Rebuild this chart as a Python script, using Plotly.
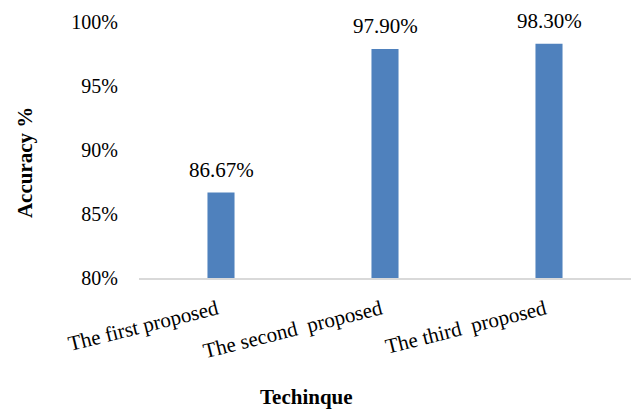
import plotly.graph_objects as go

# Accuracy of each proposed technique
techniques = ["The first proposed", "The second  proposed", "The third  proposed"]
accuracy = [86.67, 97.90, 98.30]
y_ticks = [80, 85, 90, 95, 100]

SERIF = "Liberation Serif"
BAR_BLUE = "#4f81bd"

fig = go.Figure(
    go.Bar(
        x=techniques,
        y=accuracy,
        width=0.165,
        marker=dict(color=BAR_BLUE, line=dict(width=0)),
        hoverinfo="skip",
    )
)

# Value labels above each bar
for name, val in zip(techniques, accuracy):
    fig.add_annotation(
        x=name, y=val, text=f"{val:.2f}%",
        showarrow=False, yanchor="bottom", yshift=9,
        font=dict(family=SERIF, size=21, color="#000000"),
    )

# Axis titles
fig.add_annotation(
    xref="paper", yref="paper", x=0.341, y=-0.465,
    text="<b>Techinque</b>", showarrow=False,
    xanchor="center", yanchor="middle",
    font=dict(family=SERIF, size=21, color="#000000"),
)
fig.add_annotation(
    xref="paper", yref="paper", x=-0.2317, y=0.449,
    text="<b>Accuracy %</b>", showarrow=False, textangle=-90,
    xanchor="center", yanchor="middle",
    font=dict(family=SERIF, size=21, color="#000000"),
)

fig.update_layout(
    width=637, height=409,
    margin=dict(l=139, r=6, t=22, b=131),
    paper_bgcolor="white", plot_bgcolor="white",
    showlegend=False,
    font=dict(family=SERIF, color="#000000"),
)
fig.update_xaxes(
    tickangle=-14,
    tickfont=dict(family=SERIF, size=21),
    showline=True, linecolor="#d9d9d9", linewidth=2,
    showgrid=False, ticks="",
    ticklabelstandoff=9,
    ticklabelshift=-4,
    automargin=False,
)
fig.update_yaxes(
    range=[80, 100],
    tickvals=y_ticks,
    ticktext=[f"{t}%" for t in y_ticks],
    tickfont=dict(family=SERIF, size=20),
    showline=False, showgrid=False, zeroline=False, ticks="",
    ticklabelstandoff=20,
    automargin=False,
)

fig.write_html("out.html")
